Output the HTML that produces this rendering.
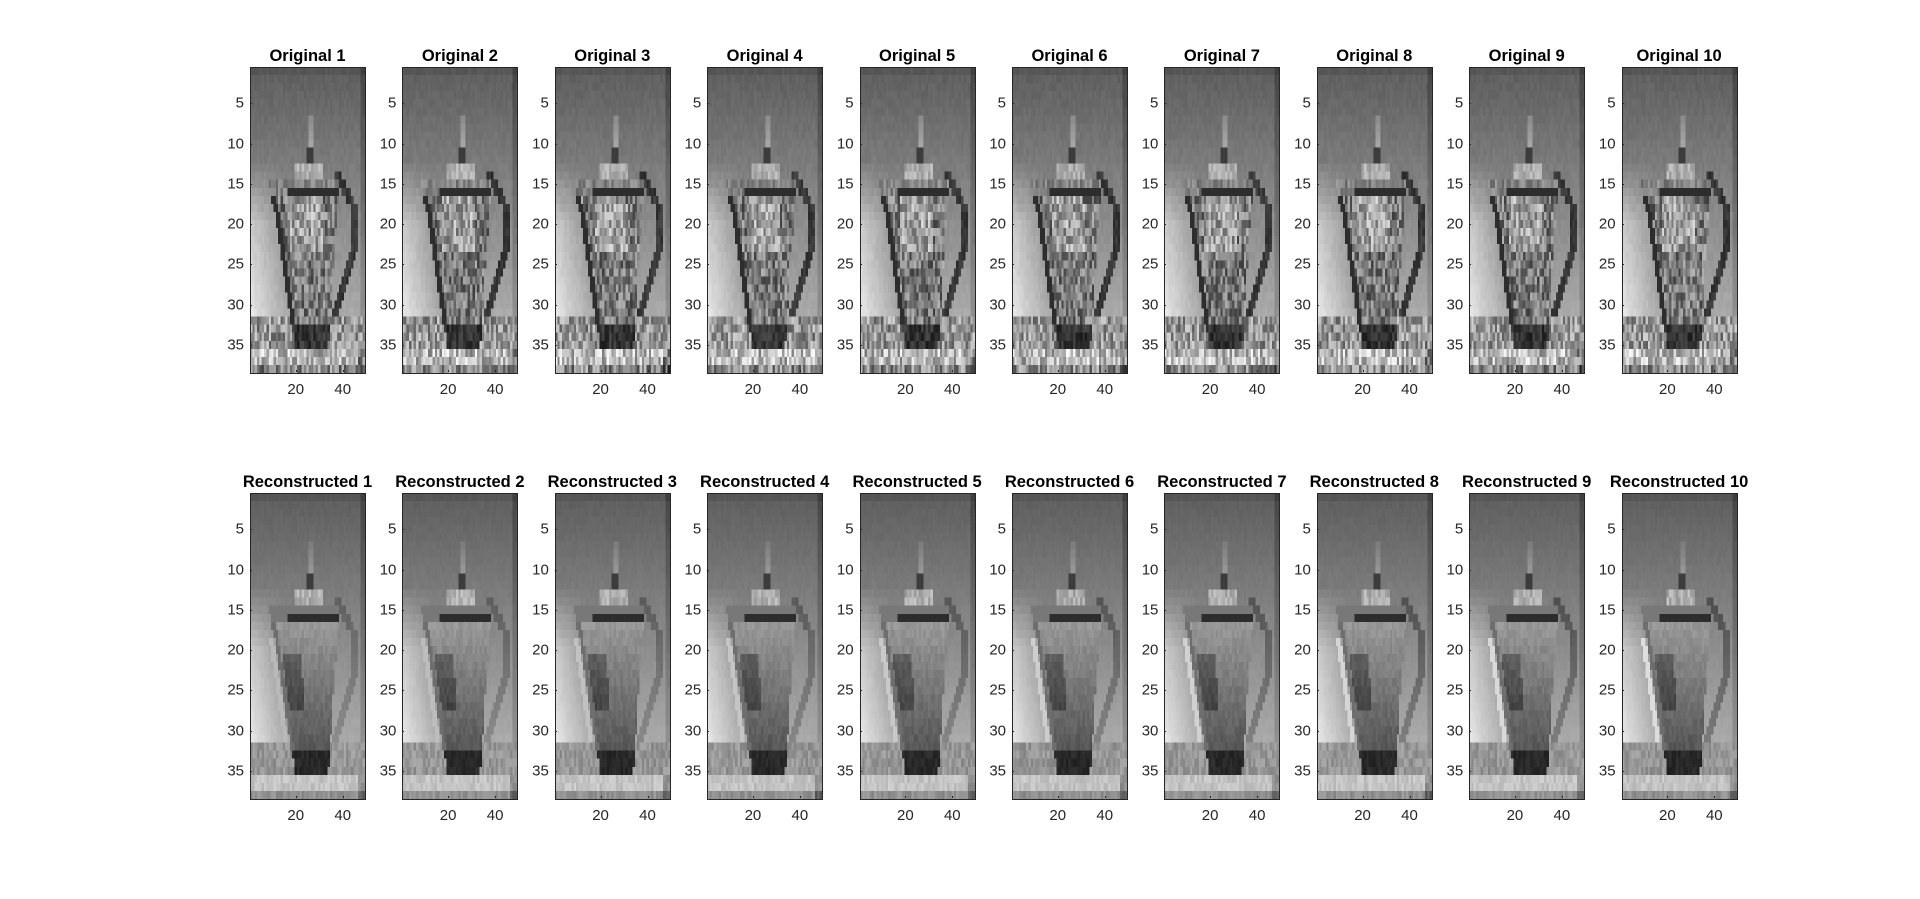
<!DOCTYPE html>
<html><head><meta charset="utf-8">
<style>
body{margin:0;width:1920px;height:899px;background:#fff;position:relative;overflow:hidden;font-family:"Liberation Sans",sans-serif;}
.ax{position:absolute;width:115px;height:306px;}
canvas{position:absolute;left:0;top:0;width:115px;height:306px;image-rendering:pixelated;}
.frame{position:absolute;left:0;top:0;width:114px;height:305px;border:1px solid #262626;pointer-events:none;}
.title{position:absolute;top:-20px;left:-60px;width:235px;text-align:center;font-weight:bold;font-size:16.5px;color:#000;white-space:nowrap;}
.yt{position:absolute;right:121px;font-size:15px;color:#262626;transform:translateY(-50%);}
.xt{position:absolute;top:314px;font-size:15px;color:#262626;transform:translateX(-50%);}
.tk{position:absolute;background:#262626;}
</style></head>
<body>
<div id="fig"></div>
<script>
const nRows = 38, nCols = 49;
const panelCount = 10;
const yTicks = [5,10,15,20,25,30,35];
const xTicks = [20,40];
const rowTops = [67, 493];
const rowPrefix = ["Original", "Reconstructed"];

function hash(a,b,c){let h=(a*374761393+b*668265263+c*1274126177)|0;h=(h^(h>>>13))*1274126177|0;h=h^(h>>>16);return ((h>>>0)%1000)/1000;}
function clamp(v){return Math.max(0,Math.min(255,v));}
function pix(r,c,k,recon){
  let v = 92 + 2.5*r - (c>47?25:0) - (r<2?8:0);
  if(c<16 && r>12) v += (16-c)*4*Math.min(1,(r-12)/8);
  v += (hash(r,c,k%3)-0.5)*(recon?6:10);
  const cen = 24 + (r-17)*0.15, half = 14 - (r-17)*0.38;
  let hc = r<18 ? 38+(r-14)*1.75 : (r<23 ? 45 : 45-(r-23)*0.95);
  if(r>=14 && r<=32 && Math.abs(c-hc)<1.6){ v = recon ? v-30-k*2 : 40+hash(r,c,k)*30; }
  if(r>=7&&r<=10&&c>=26&&c<=27) v = 165 - (recon?15:0) - (10-r)*8;
  if(r>=11&&r<=12&&c>=25&&c<=27) v = 60;
  if(r>=13&&r<=14&&c>=20&&c<=31) v = 175 + (hash(r,c,k)-0.5)*50;
  if(r>=15 && r<=35 && Math.abs(c-cen)<=half){
    if(r>=15.5 && r<=16 && c>=17 && c<=40) v = 45;
    else if(r<=16) v = recon?120:100+hash(r,c,k)*60;
    else if(!recon){
      let n = hash(r,c,k+7);
      v = 60 + n*120;
      if(r<24 && Math.abs(c-cen)<7) v += 40;
      if(Math.abs(c-(cen-half))<2) v = 45;
      if(r>32) v = 25+n*50;
    } else {
      v = 155 - (r-16)*4.2 + (hash(r,c,k+3)-0.5)*18;
      if(r>=21&&r<=27&&c<cen-2&&c>cen-half+2) v -= 40;
      if(Math.abs(c-(cen-half))<1.5) v = 110;
      if(r>32) v = 40 + (hash(r,c,k)-0.5)*20;
    }
  }
  if(recon && r>=19 && r<=31 && Math.abs(c-(cen-half-1.5))<1) v = 185 + k*4;
  if(r>=32 && !(r<=35 && Math.abs(c-cen)<=half)){
    if(r<=35) v = recon ? 150+(hash(r,c,k)-0.5)*40 : 90+hash(r,c,k+11)*120;
    else v = recon ? 195+(hash(r,c,k)-0.5)*30 : 120+hash(r,c,k+5)*130;
    if(r===38) v -= 50;
    if(c>46 && r>=36) v -= 50;
  }
  return clamp(v);
}

const fig = document.getElementById('fig');
for(let row=0; row<2; row++){
  for(let i=0;i<panelCount;i++){
    const ax = document.createElement('div');
    ax.className='ax';
    ax.style.left = (250 + i*152.4)+'px';
    ax.style.top = rowTops[row]+'px';
    
    
    const cv = document.createElement('canvas');
    cv.width=nCols; cv.height=nRows;
    
    
    const ctx = cv.getContext('2d');
    const img = ctx.createImageData(nCols,nRows);
    for(let r=0;r<nRows;r++)for(let c=0;c<nCols;c++){
      const g = pix(r+1,c+1,i,row===1);
      const p=(r*nCols+c)*4; img.data[p]=img.data[p+1]=img.data[p+2]=g; img.data[p+3]=255;
    }
    ctx.putImageData(img,0,0);
    ax.appendChild(cv);
    const fr = document.createElement('div'); fr.className='frame';
    
    
    ax.appendChild(fr);
    const t = document.createElement('div'); t.className='title';
    t.textContent = rowPrefix[row]+' '+(i+1);
    
    
    ax.appendChild(t);
    const ys = 306/nRows, xs = 115/nCols;
    yTicks.forEach(v=>{
      const y=(v-0.5)*ys;
      const l=document.createElement('div'); l.className='yt'; l.style.top=y+'px'; l.textContent=v;
      
      
      ax.appendChild(l);
      const tk=document.createElement('div'); tk.className='tk'; tk.style.cssText+='left:0;top:'+y+'px;width:2px;height:1px';
      
      
      ax.appendChild(tk);
    });
    xTicks.forEach(v=>{
      const x=(v-0.5)*xs;
      const l=document.createElement('div'); l.className='xt'; l.style.left=x+'px'; l.textContent=v;
      
      
      ax.appendChild(l);
      const tk=document.createElement('div'); tk.className='tk'; tk.style.cssText+='left:'+x+'px;top:303px;width:1px;height:2px';
      
      
      ax.appendChild(tk);
    });
    fig.appendChild(ax);
  }
}
</script>
</body></html>
